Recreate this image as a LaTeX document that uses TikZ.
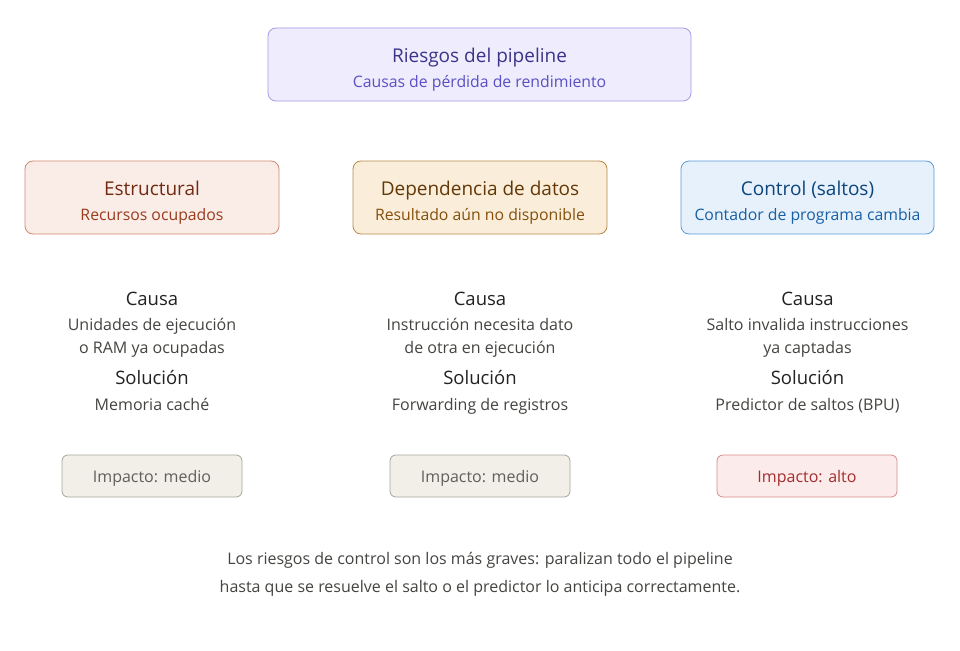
\documentclass[tikz,border=0pt]{standalone}
\usepackage{fontspec}
\setmainfont{Open Sans}
\begin{document}
\begin{tikzpicture}[x=1pt,y=-1pt,
  every node/.style={text height=0.73em, text depth=0pt},
  box/.style={draw, rounded corners=8pt, line width=0.8pt, inner sep=0pt},
  ttl/.style={font=\fontsize{19}{22}\selectfont},
  sub/.style={font=\fontsize{15.8}{18}\selectfont},
  body/.style={font=\fontsize{16}{19}\selectfont, text=bodyc},
  head/.style={font=\fontsize{18.5}{21}\selectfont, text=headc}]
\definecolor{bodyc}{HTML}{444441}
\definecolor{headc}{HTML}{222222}
\definecolor{pF}{HTML}{EEECFD}\definecolor{pD}{HTML}{A49BE6}\definecolor{pT}{HTML}{3C3489}\definecolor{pS}{HTML}{5A50C4}
\definecolor{rF}{HTML}{FAECE7}\definecolor{rD}{HTML}{D08A70}\definecolor{rT}{HTML}{712B13}\definecolor{rS}{HTML}{993C1D}
\definecolor{oF}{HTML}{FAEEDA}\definecolor{oD}{HTML}{BA8A4A}\definecolor{oT}{HTML}{633806}\definecolor{oS}{HTML}{854F0B}
\definecolor{bF}{HTML}{E6F1FB}\definecolor{bD}{HTML}{5A9AD8}\definecolor{bT}{HTML}{0C447C}\definecolor{bS}{HTML}{185FA5}
\definecolor{gF}{HTML}{F1EFE8}\definecolor{gD}{HTML}{A8A69E}\definecolor{gT}{HTML}{5F5E5A}
\definecolor{xF}{HTML}{FCEBEB}\definecolor{xD}{HTML}{D98A8A}\definecolor{xT}{HTML}{A32D2D}
\useasboundingbox[fill=white] (0,0) rectangle (960,650);
% top
\draw[box, fill=pF, draw=pD] (268,28) rectangle (691,101);
\node[ttl, text=pT] (top) at (479.5,59) {Riesgos del pipeline};
\node[sub, text=pS] (tops) at (479.5,84) {Causas de pérdida de rendimiento};
% categories
\draw[box, fill=rF, draw=rD] (25,161) rectangle (279,234);
\node[ttl, text=rT] (c1) at (152,191.5) {Estructural};
\node[sub, text=rS] (c1s) at (152,216.5) {Recursos ocupados};
\draw[box, fill=oF, draw=oD] (353,161) rectangle (607,234);
\node[ttl, text=oT] (c2) at (480,191.5) {Dependencia de datos};
\node[sub, text=oS] (c2s) at (480,216.5) {Resultado aún no disponible};
\draw[box, fill=bF, draw=bD] (681,161) rectangle (934,234);
\node[ttl, text=bT] (c3) at (807.5,191.5) {Control (saltos)};
\node[sub, text=bS] (c3s) at (807.5,216.5) {Contador de programa cambia};
% details
\foreach \x/\n/\la/\lb/\sol in {152/1/Unidades de ejecución/o RAM ya ocupadas/Memoria caché,
  480/2/Instrucción necesita dato/de otra en ejecución/Forwarding de registros,
  807.5/3/Salto invalida instrucciones/ya captadas/Predictor de saltos (BPU)}{
  \node[head] (ca\n) at (\x,301.5) {Causa};
  \node[body] (la\n) at (\x,327) {\la};
  \node[body] (lb\n) at (\x,350) {\lb};
  \node[head] (so\n) at (\x,381) {Solución};
  \node[body] (sl\n) at (\x,407) {\sol};
}
% impact
\draw[box, rounded corners=6pt, fill=gF, draw=gD] (62,455) rectangle (242,497);
\node[body, text=gT] (i1) at (152,479) {Impacto: medio};
\draw[box, rounded corners=6pt, fill=gF, draw=gD] (390,455) rectangle (570,497);
\node[body, text=gT] (i2) at (480,479) {Impacto: medio};
\draw[box, rounded corners=6pt, fill=xF, draw=xD] (717,455) rectangle (897,497);
\node[body, text=xT] (i3) at (807,479) {Impacto: alto};
% footer
\node[body] (f1) at (480,561) {Los riesgos de control son los más graves: paralizan todo el pipeline};
\node[body] (f2) at (480,589) {hasta que se resuelve el salto o el predictor lo anticipa correctamente.};
\end{tikzpicture}
\end{document}
